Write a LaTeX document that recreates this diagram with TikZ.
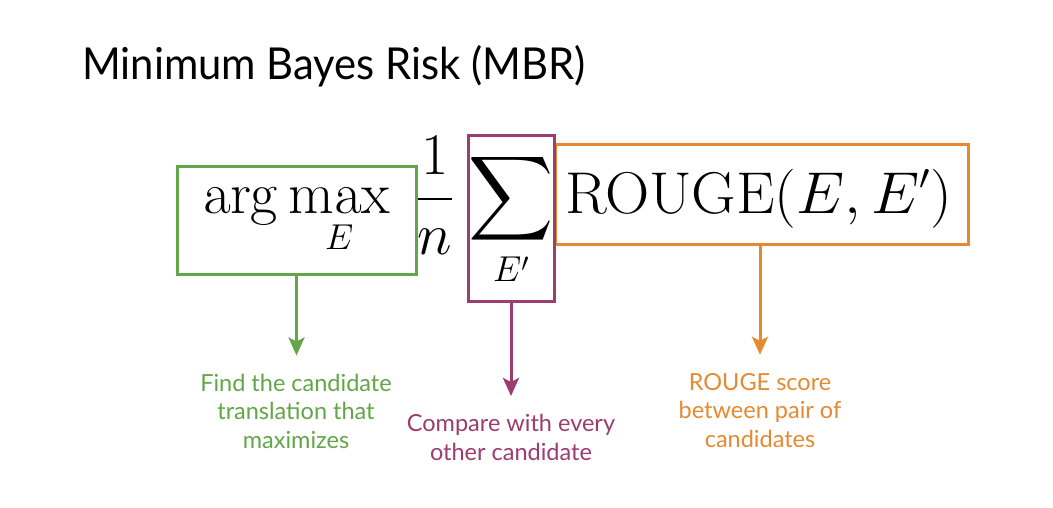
\RequirePackage{fix-cm}
\documentclass[tikz,border=0pt]{standalone}
\usepackage[no-math]{fontspec}
\usepackage{graphicx}
\DeclareFontShape{OMX}{cmex}{m}{n}{<->cmex10}{}
\DeclareMathSizes{59}{59}{36}{26}
\newfontfamily\lato{Lato}
\usetikzlibrary{arrows.meta}
\definecolor{mgreen}{RGB}{98,166,72}
\definecolor{mpurple}{RGB}{155,61,110}
\definecolor{morange}{RGB}{230,138,50}
\newcommand\mth[1]{{\fontsize{59}{70}\selectfont$\displaystyle #1$}}
\tikzset{
  boxstyle/.style={draw, line width=3pt, inner sep=0pt, fill=none},
  mathtext/.style={inner sep=0pt, outer sep=0pt},
  labeltext/.style={inner sep=0pt, align=center, font=\lato\fontsize{23.5}{28.5}\selectfont},
  arr/.style={line width=3pt, -{Stealth[length=18pt,width=16pt,inset=4pt]}, shorten >=18pt},
}
\begin{document}
\begin{tikzpicture}[x=1pt,y=-1pt]
\useasboundingbox[fill=white] (0,0) rectangle (1053,508);
% title
\node[anchor=base west, inner sep=0pt] (title) at (82,80) {\scalebox{0.95}[1]{\lato\fontsize{44}{52}\selectfont Minimum Bayes Risk (MBR)}};
% boxes
\node[boxstyle, mgreen, minimum width=239pt, minimum height=107pt] (gbox) at (296.5,220.5) {};
\node[boxstyle, morange, minimum width=413pt, minimum height=99pt] (obox) at (761.5,194.5) {};
\node[boxstyle, mpurple, minimum width=86pt, minimum height=165pt] (pbox) at (511,218.5) {};
% math
\node[mathtext, anchor=base west] (argmax) at (203,214) {\mth{\arg\max_E}};
\node[mathtext, anchor=base] (frac) at (435,214) {\mth{\frac{1}{n}}};
\node[mathtext, anchor=base] (sum) at (511,214) {\mth{\sum_{E'}}};
\node[mathtext, anchor=base west] (rouge) at (565,214) {\scalebox{1.04}[1]{\mth{\mathrm{ROUGE}(E,E')}}};
% labels (base = last line)
\node[labeltext, text=mgreen, anchor=base] (glab) at (296,448) {Find the candidate\\translation that\\maximizes};
\node[labeltext, text=mpurple, anchor=base] (plab) at (511,460) {Compare with every\\other candidate};
\node[labeltext, text=morange, anchor=base] (olab) at (760,447) {ROUGE score\\between pair of\\candidates};
% arrows
\draw[arr, mgreen] (gbox.south) -- (gbox.south |- glab.north);
\draw[arr, mpurple] (pbox.south) -- (pbox.south |- plab.north);
\draw[arr, morange] (obox.south -| olab.north) -- (olab.north);
\end{tikzpicture}
\end{document}
